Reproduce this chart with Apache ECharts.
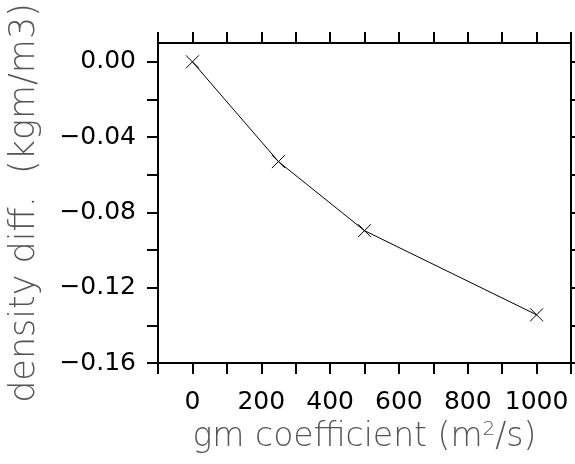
<!DOCTYPE html>
<html>
<head>
<meta charset="utf-8">
<script src="https://cdn.jsdelivr.net/npm/echarts@6/dist/echarts.min.js"></script>
<style>
  html, body { margin: 0; padding: 0; background: #fff; }
  #chart { width: 575px; height: 464px; }
</style>
</head>
<body>
<div id="chart"></div>
<script>
// gm coefficient vs density difference
const gmValues = [0, 250, 500, 1000];
const densityDiff = [0.0, -0.053, -0.0897, -0.1344];

const xLabelValues = [0, 200, 400, 600, 800, 1000];
const yLabelValues = [-0.16, -0.12, -0.08, -0.04, 0.0];
const yTickValues = [-0.16, -0.14, -0.12, -0.10, -0.08, -0.06, -0.04, -0.02, 0.0];

const chart = echarts.init(document.getElementById('chart'));

const frameLine = { show: true, onZero: false, lineStyle: { color: '#000', width: 2 } };
const tickStyle = { show: true, inside: false, length: 11, lineStyle: { color: '#000', width: 2 } };
const labelFont = 'DejaVu Sans';

const option = {
  animation: false,
  backgroundColor: '#fff',
  grid: { left: 158, right: 4, top: 43, bottom: 101, containLabel: false, outerBoundsMode: 'none' },
  xAxis: [
    {
      type: 'value',
      min: -100, max: 1100, interval: 100,
      position: 'bottom',
      axisLine: frameLine,
      axisTick: tickStyle,
      splitLine: { show: false },
      axisLabel: {
        customValues: xLabelValues,
        margin: 27,
        color: '#000',
        fontFamily: labelFont,
        fontSize: 25,
        formatter: v => String(v)
      },
      name: '{t|gm coefficient (m}{sup|2}{t|/s)}',
      nameLocation: 'middle',
      nameGap: 57,
      nameTextStyle: {
        rich: {
          t: { fontFamily: labelFont, fontWeight: 200, fontSize: 33, color: '#555' },
          sup: { fontFamily: labelFont, fontWeight: 200, fontSize: 20, color: '#555', verticalAlign: 'top', padding: [0, 0, 14, 0] }
        }
      }
    },
    {
      type: 'value',
      min: -100, max: 1100, interval: 100,
      position: 'top',
      axisLine: frameLine,
      axisTick: tickStyle,
      splitLine: { show: false },
      axisLabel: { show: false }
    }
  ],
  yAxis: [
    {
      type: 'value',
      min: -0.16, max: 0.01,
      position: 'left',
      axisLine: frameLine,
      axisTick: Object.assign({}, tickStyle, { customValues: yTickValues }),
      splitLine: { show: false },
      axisLabel: {
        customValues: yLabelValues,
        margin: 22,
        color: '#000',
        fontFamily: labelFont,
        fontSize: 25,
        formatter: v => (v < 0 ? '\u2212' : '') + Math.abs(v).toFixed(2)
      },
      name: 'density diff.  (kgm/m3)',
      nameLocation: 'middle',
      nameGap: 116,
      nameTextStyle: { fontFamily: labelFont, fontWeight: 200, fontSize: 35, color: '#555' }
    },
    {
      type: 'value',
      min: -0.16, max: 0.01,
      position: 'right',
      axisLine: frameLine,
      axisTick: Object.assign({}, tickStyle, { customValues: yTickValues }),
      splitLine: { show: false },
      axisLabel: { show: false }
    }
  ],
  series: [
    {
      type: 'line',
      data: gmValues.map((g, i) => [g, densityDiff[i]]),
      lineStyle: { color: '#000', width: 1 },
      symbol: 'path://M0,0L10,10M10,0L0,10',
      symbolSize: 13,
      itemStyle: { color: 'none', borderColor: '#000', borderWidth: 1 },
      emphasis: { disabled: true }
    }
  ]
};

chart.setOption(option);
</script>
</body>
</html>
